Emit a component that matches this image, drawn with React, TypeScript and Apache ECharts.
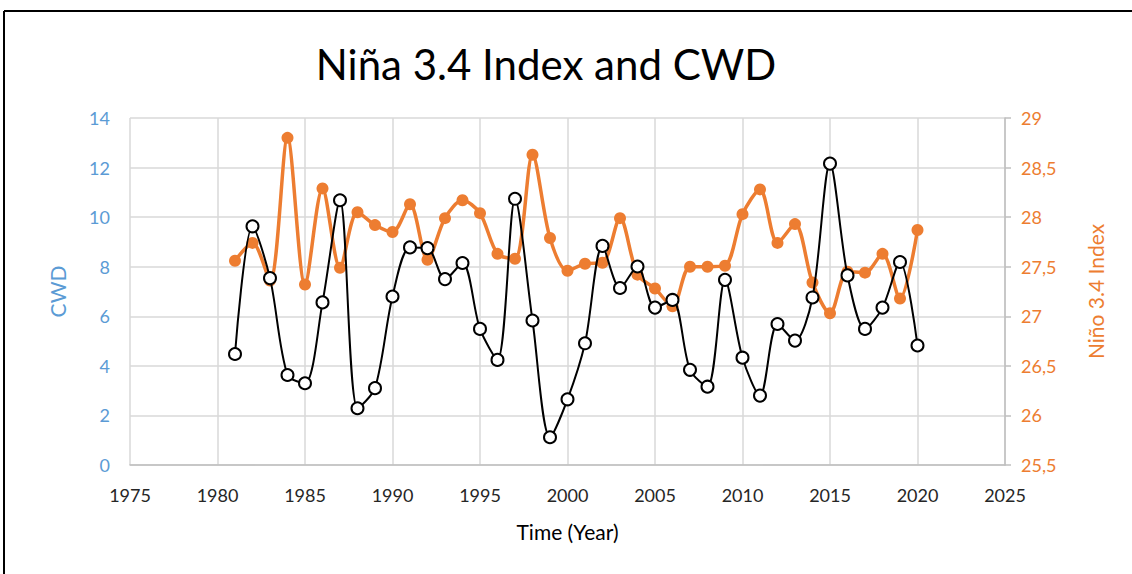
import React, { useEffect, useRef } from "react";
import * as echarts from "echarts";

const years = [1981, 1982, 1983, 1984, 1985, 1986, 1987, 1988, 1989, 1990, 1991, 1992, 1993, 1994, 1995, 1996, 1997, 1998, 1999, 2000, 2001, 2002, 2003, 2004, 2005, 2006, 2007, 2008, 2009, 2010, 2011, 2012, 2013, 2014, 2015, 2016, 2017, 2018, 2019, 2020];
const cwd = [4.48, 9.63, 7.54, 3.63, 3.3, 6.56, 10.68, 2.29, 3.1, 6.8, 8.78, 8.75, 7.5, 8.15, 5.49, 4.24, 10.74, 5.83, 1.12, 2.65, 4.91, 8.84, 7.14, 8.01, 6.35, 6.66, 3.84, 3.16, 7.47, 4.33, 2.8, 5.69, 5.02, 6.76, 12.16, 7.65, 5.49, 6.35, 8.19, 4.82];
const nino34 = [27.56, 27.74, 27.36, 28.8, 27.32, 28.29, 27.49, 28.05, 27.92, 27.85, 28.13, 27.57, 27.99, 28.17, 28.04, 27.63, 27.58, 28.63, 27.79, 27.46, 27.53, 27.54, 27.99, 27.42, 27.28, 27.1, 27.5, 27.5, 27.51, 28.03, 28.28, 27.74, 27.93, 27.34, 27.03, 27.45, 27.44, 27.63, 27.18, 27.87];

const titleText = "Niña 3.4 Index and CWD";
const xName = "Time (Year)";
const leftName = "CWD";
const rightName = "Niño 3.4 Index";

const FONT = "Lato, 'Open Sans', sans-serif";
const ORANGE = "#ED7D31";
const BLUE = "#5B9BD5";

export default function App() {
  const ref = useRef<HTMLDivElement>(null);
  useEffect(() => {
    if (!ref.current) return;
    const chart = echarts.init(ref.current, null, { renderer: "svg" });
    chart.setOption({
      animation: false,
      backgroundColor: "#ffffff",
      title: {
        text: titleText,
        left: 541,
        top: 38,
        textAlign: "center",
        textStyle: { fontFamily: FONT, fontSize: 42, fontWeight: "normal", color: "#000" },
      },
      graphic: [
        { type: "line", shape: { x1: 4, y1: 11, x2: 1132, y2: 11 }, style: { stroke: "#000", lineWidth: 2 } },
        { type: "line", shape: { x1: 4, y1: 11, x2: 4, y2: 574 }, style: { stroke: "#000", lineWidth: 2 } },
      ],
      grid: { left: 130, right: 127, top: 118, bottom: 109 },
      xAxis: {
        type: "value",
        min: 1975,
        max: 2025,
        interval: 5,
        name: xName,
        nameLocation: "middle",
        nameGap: 56,
        nameTextStyle: { fontFamily: FONT, fontSize: 21, fontWeight: "normal", color: "#000" },
        axisLine: { show: true, lineStyle: { color: "#BFBFBF", width: 1.5 } },
        axisTick: { show: false },
        axisLabel: { fontFamily: FONT, fontSize: 18, color: "#262626", margin: 21, formatter: (v: number) => String(v) },
        splitLine: { show: true, lineStyle: { color: "#D9D9D9", width: 1.5 } },
      },
      yAxis: [
        {
          type: "value",
          min: 0,
          max: 14,
          interval: 2,
          name: leftName,
          nameLocation: "middle",
          nameRotate: 90,
          nameGap: 62,
          nameTextStyle: { fontFamily: FONT, fontSize: 21, fontWeight: "normal", color: BLUE },
          axisLine: { show: false },
          axisTick: { show: false },
          axisLabel: { fontFamily: FONT, fontSize: 18, color: BLUE, margin: 20 },
          splitLine: { show: true, lineStyle: { color: "#D9D9D9", width: 1.5 } },
        },
        {
          type: "value",
          min: 25.5,
          max: 29,
          interval: 0.5,
          position: "right",
          name: rightName,
          nameLocation: "middle",
          nameRotate: 90,
          nameGap: 80,
          nameTextStyle: { fontFamily: FONT, fontSize: 21, fontWeight: "normal", color: ORANGE },
          axisLine: { show: true, lineStyle: { color: "#BFBFBF", width: 1.5 } },
          axisTick: { show: true, length: 6, lineStyle: { color: "#BFBFBF", width: 1.5 } },
          axisLabel: {
            fontFamily: FONT,
            fontSize: 18,
            color: ORANGE,
            margin: 16,
            formatter: (v: number) => String(v).replace(".", ","),
          },
          splitLine: { show: false },
        },
      ],
      series: [
        {
          type: "line",
          yAxisIndex: 1,
          data: years.map((y, i) => [y, nino34[i]]),
          smooth: 0.3,
          symbol: "circle",
          symbolSize: 12,
          lineStyle: { color: ORANGE, width: 3.5 },
          itemStyle: { color: ORANGE, borderColor: ORANGE, borderWidth: 0 },
          z: 2,
        },
        {
          type: "line",
          yAxisIndex: 0,
          data: years.map((y, i) => [y, cwd[i]]),
          smooth: 0.3,
          symbol: "circle",
          symbolSize: 12,
          showAllSymbol: true,
          lineStyle: { color: "#000", width: 2 },
          itemStyle: { color: "#fff", borderColor: "#000", borderWidth: 2 },
          z: 3,
        },
      ],
    });
    return () => chart.dispose();
  }, []);
  return <div ref={ref} style={{ position: "fixed", left: 0, top: 0, width: 1132, height: 574 }} />;
}
